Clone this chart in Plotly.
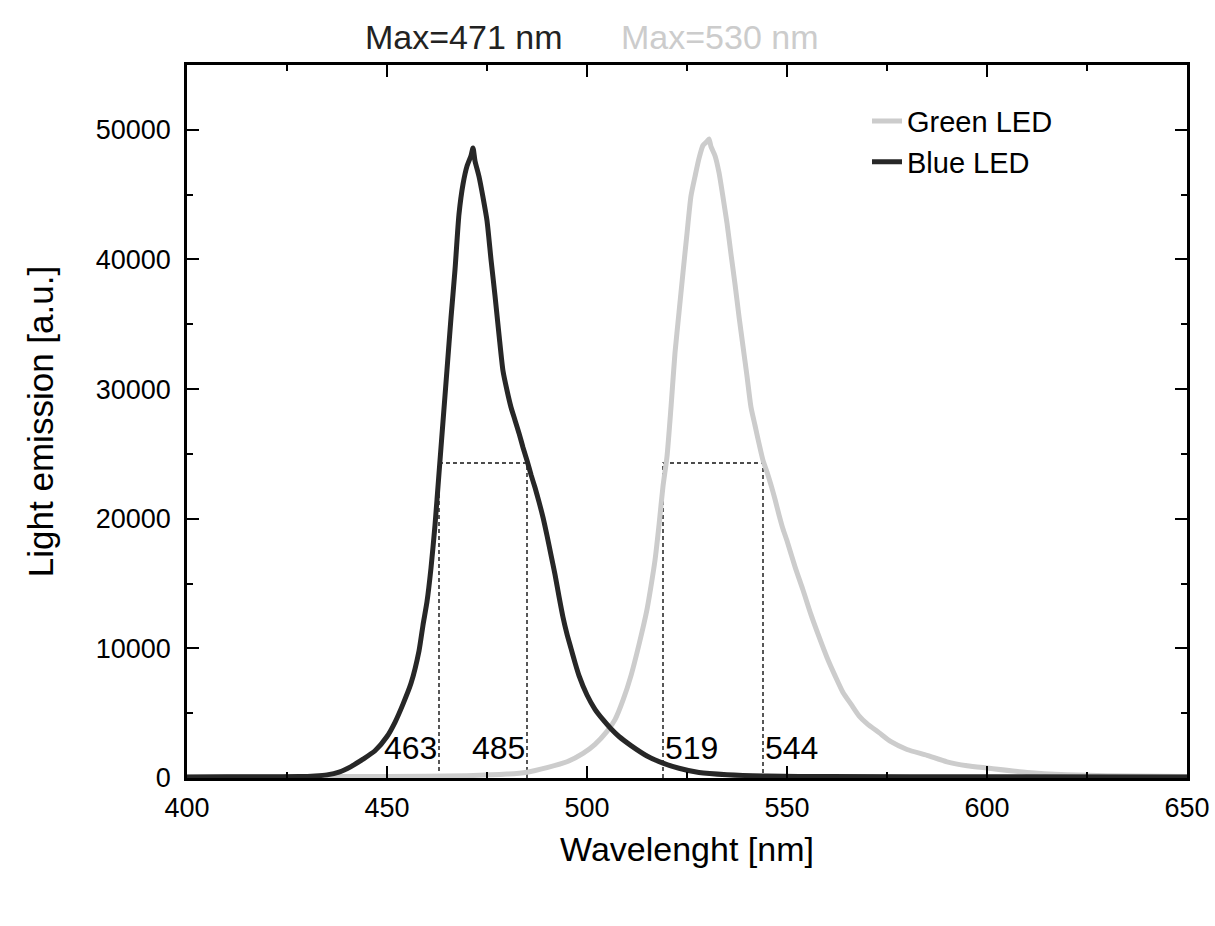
import plotly.graph_objects as go

# ---------------- data ----------------
blue_wl = [400, 410, 420, 428, 432, 435, 438, 441, 444, 447,
           450, 452, 454, 456, 458, 459, 460, 461, 462, 463,
           464, 465, 466, 467, 468, 469, 470, 471, 471.5, 472,
           473, 474, 475, 476, 477, 478, 479, 480, 481, 482,
           483, 484, 485, 486, 487, 488, 489, 490, 491, 492,
           493, 494, 495, 496, 497, 498, 500, 502, 504, 506,
           508, 511, 515, 519, 523, 528, 535, 545, 560, 600,
           650]
blue_int = [80, 90, 100, 110, 160, 240, 450, 880, 1450, 2100,
            3200, 4300, 5700, 7300, 9800, 11800, 13600, 16200, 19500, 23500,
            27500, 31500, 35500, 39200, 43500, 45800, 47200, 48000, 48600, 47600,
            46400, 44800, 43000, 40000, 37200, 34200, 31400, 29900, 28600, 27600,
            26600, 25500, 24500, 23400, 22400, 21300, 20100, 18700, 17200, 15700,
            14000, 12400, 11100, 10000, 8900, 7900, 6400, 5300, 4500, 3800,
            3200, 2500, 1700, 1150, 750, 420, 250, 150, 110, 90,
            80]

green_wl = [400, 430, 450, 470, 480, 485, 490, 495, 499, 502,
            505, 507, 509, 511, 513, 515, 516, 517, 518, 519,
            520, 521, 522, 523, 524, 525, 526, 527, 528, 529,
            530, 530.5, 531, 532, 533, 534, 535, 536, 537, 538,
            539, 540, 541, 542, 543, 544, 545, 546, 547, 548,
            549, 550, 552, 554, 556, 558, 560, 562, 564, 566,
            568, 570, 573, 576, 580, 585, 590, 595, 600, 610,
            620, 630, 650]
green_int = [80, 100, 120, 180, 300, 450, 800, 1250, 1900, 2600,
             3600, 4500, 6000, 7900, 10300, 13000, 14800, 16800, 19500, 22500,
             24800, 28600, 32800, 35900, 39000, 42000, 44900, 46400, 47800, 48800,
             49100, 49300, 48700, 48000, 46700, 44800, 42800, 40400, 38100, 35600,
             33300, 31000, 28600, 27200, 25800, 24500, 23600, 22600, 21500, 20300,
             19200, 18300, 16300, 14500, 12600, 10900, 9300, 7900, 6600, 5700,
             4800, 4200, 3500, 2800, 2200, 1750, 1250, 950, 770, 430,
             260, 180, 120]

blue_fwhm = [463, 485]
green_fwhm = [519, 544]
half_max = 24300
peak_blue = 471
peak_green = 530

x_ticks = [400, 450, 500, 550, 600, 650]
y_ticks = [0, 10000, 20000, 30000, 40000, 50000]
x_range = [400, 650]
y_range = [0, 55000]
label_level = 2300

# ---------------- styles ----------------
FONT = "Liberation Sans, Arial, Helvetica, sans-serif"
BLUE_COL = "#272727"
GREEN_COL = "#cccccc"
DASH_COL = "#111111"

fig = go.Figure()

# FWHM dashed guides
for fw in (blue_fwhm, green_fwhm):
    fig.add_trace(go.Scatter(
        x=[fw[0], fw[0], fw[1], fw[1]], y=[0, half_max, half_max, 0],
        mode="lines", line=dict(color=DASH_COL, width=1.4, dash="4px,3px"),
        showlegend=False, hoverinfo="skip"))

fig.add_trace(go.Scatter(x=green_wl, y=green_int, mode="lines", name="Green LED",
                         line=dict(color=GREEN_COL, width=5, shape="spline",
                                   smoothing=0.6)))
fig.add_trace(go.Scatter(x=blue_wl, y=blue_int, mode="lines", name="Blue LED",
                         line=dict(color=BLUE_COL, width=5, shape="spline",
                                   smoothing=0.6)))

# FWHM labels
for v, anch in ((blue_fwhm[0], "right"), (blue_fwhm[1], "right"),
                (green_fwhm[0], "left"), (green_fwhm[1], "left")):
    fig.add_annotation(x=v, y=label_level, text=str(v), showarrow=False,
                       xanchor=anch, yanchor="middle",
                       font=dict(family=FONT, size=32, color="black"))

# Max labels above the plot
fig.add_annotation(xref="paper", yref="paper", x=0.2765, y=1.039,
                   text=f"Max={peak_blue} nm", showarrow=False,
                   xanchor="center", yanchor="middle",
                   font=dict(family=FONT, size=34, color="#222222"))
fig.add_annotation(xref="paper", yref="paper", x=0.533, y=1.039,
                   text=f"Max={peak_green} nm", showarrow=False,
                   xanchor="center", yanchor="middle",
                   font=dict(family=FONT, size=34, color=GREEN_COL))

axis_common = dict(
    showline=True, linecolor="black", linewidth=2.5, mirror="ticks",
    ticks="inside", ticklen=12, tickwidth=2, tickcolor="black",
    showgrid=False, zeroline=False, automargin=False,
    tickfont=dict(family=FONT, size=27, color="black"),
)

fig.update_xaxes(range=x_range, tickvals=x_ticks, ticktext=[str(t) for t in x_ticks],
                 ticklabelstandoff=4,
                 minor=dict(ticks="inside", ticklen=6, tickwidth=2, tickcolor="black",
                            dtick=25, tick0=400, showgrid=False),
                 title=dict(text="Wavelenght [nm]", standoff=16,
                            font=dict(family=FONT, size=34, color="black")),
                 **axis_common)
fig.update_yaxes(range=y_range, tickvals=y_ticks, ticktext=[str(t) for t in y_ticks],
                 ticklabelstandoff=8,
                 minor=dict(ticks="inside", ticklen=6, tickwidth=2, tickcolor="black",
                            dtick=5000, tick0=0, showgrid=False),
                 title=dict(text="Light emission [a.u.]", standoff=32,
                            font=dict(family=FONT, size=35, color="black")),
                 **axis_common)

fig.update_layout(
    width=1215, height=926,
    margin=dict(l=187, r=28, t=65, b=148),
    paper_bgcolor="white", plot_bgcolor="white",
    font=dict(family=FONT, color="black"),
    showlegend=True,
    legend=dict(x=0.68, y=0.957, xanchor="left", yanchor="top",
                bgcolor="rgba(0,0,0,0)", borderwidth=0,
                font=dict(family=FONT, size=29, color="black"),
                tracegroupgap=0, itemwidth=30),
)

fig.write_html(
    "out.html",
    config={"displayModeBar": False},
    post_script="document.body.style.margin='0';"
                "document.documentElement.style.overflow='hidden';",
)
